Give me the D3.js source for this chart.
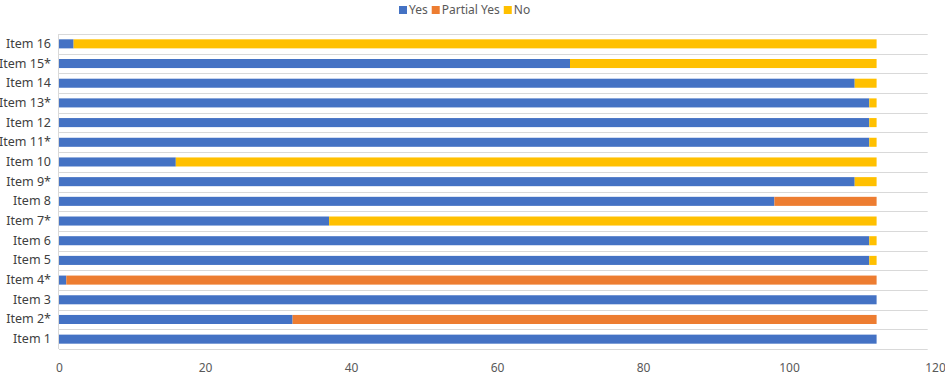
<!DOCTYPE html>
<html>
<head>
<meta charset="utf-8">
<script src="https://cdn.jsdelivr.net/npm/d3@7"></script>
<style>
body { margin: 0; background: #fff; }
text { font-family: "Noto Sans", "Open Sans", sans-serif; }
</style>
</head>
<body>
<svg id="chart" width="945" height="375"></svg>
<script>
// data (Item 1 at the bottom)
var items = ["Item 1","Item 2*","Item 3","Item 4*","Item 5","Item 6","Item 7*","Item 8",
	"Item 9*","Item 10","Item 11*","Item 12","Item 13*","Item 14","Item 15*","Item 16"]
var yes = [112,32,112,1,111,111,37,98,109,16,111,111,111,109,70,2]
var partialYes = [0,80,0,111,0,0,0,14,0,0,0,0,0,0,0,0]
var no = [0,0,0,0,1,1,75,0,3,96,1,1,1,3,42,110]
var seriesNames = ["Yes","Partial Yes","No"]
var seriesColors = ["#4472C4","#ED7D31","#FFC000"]
var xTicks = [0,20,40,60,80,100,120]

var svg = d3.select("#chart")
var margin = {left:59, right:10, top:34, bottom:26}
var W = 945, H = 375

var rows = items.map(function(d,i){
	return {item:d, "Yes":yes[i], "Partial Yes":partialYes[i], "No":no[i]}
})
var stack = d3.stack().keys(seriesNames)(rows)

var x = d3.scaleLinear().domain([0,120]).range([margin.left, W - margin.right])
var y = d3.scaleBand()
	.domain(items.slice().reverse())
	.range([margin.top, H - margin.bottom])
	.paddingInner(0.54)
	.paddingOuter(0.27)
var color = d3.scaleOrdinal().domain(seriesNames).range(seriesColors)

// horizontal gridlines between the bands
var bounds = d3.range(items.length + 1).map(function(i){ return margin.top + i*(H - margin.bottom - margin.top)/items.length })
svg.append("g")
	.selectAll("line")
	.data(bounds)
	.enter()
	.append("line")
	.attr("x1", x(0))
	.attr("x2", x(119))
	.attr("y1", function(d){ return Math.round(d) + 0.5 })
	.attr("y2", function(d){ return Math.round(d) + 0.5 })
	.attr("stroke", "#d9d9d9")
	.attr("stroke-width", 1)

// left axis line
svg.append("line")
	.attr("x1", x(0) - 0.5).attr("x2", x(0) - 0.5)
	.attr("y1", margin.top).attr("y2", H - margin.bottom)
	.attr("stroke", "#d9d9d9")

svg.append("g")
	.selectAll("g")
	.data(stack)
	.enter()
	.append("g")
	.attr("fill", function(d){ return color(d.key) })
	.selectAll("rect")
	.data(function(d){ return d })
	.enter()
	.append("rect")
	.attr("x", function(d){ return x(d[0]) })
	.attr("width", function(d){ return x(d[1]) - x(d[0]) })
	.attr("y", function(d){ return y(d.data.item) })
	.attr("height", y.bandwidth())

// category labels
var yAxis = svg.append("g")
	.attr("transform", "translate(" + (x(0) - 8) + ",0)")
	.call(d3.axisLeft(y).tickSize(0).tickPadding(0))
yAxis.select(".domain").remove()
yAxis.selectAll("text")
	.attr("fill", "#404040")
	.style("font-size", "12.5px")

// value axis labels
var xAxis = svg.append("g")
	.attr("transform", "translate(0," + (H - margin.bottom + 14) + ")")
	.call(d3.axisBottom(x).tickValues(xTicks).tickSize(0).tickPadding(0))
xAxis.select(".domain").remove()
xAxis.selectAll("text")
	.attr("fill", "#595959")
	.style("font-size", "12px")

// legend
var legend = svg.append("g").attr("transform", "translate(0,10)")
var lx = 399
seriesNames.forEach(function(name, i){
	legend.append("rect")
		.attr("x", lx).attr("y", -4)
		.attr("width", 8).attr("height", 8)
		.attr("fill", seriesColors[i])
	var t = legend.append("text")
		.attr("x", lx + 10).attr("y", 0)
		.attr("dy", "0.35em")
		.attr("fill", "#595959")
		.style("font-size", "12px")
		.text(name)
	lx += 10 + t.node().getComputedTextLength() + 4
})
</script>
</body>
</html>
